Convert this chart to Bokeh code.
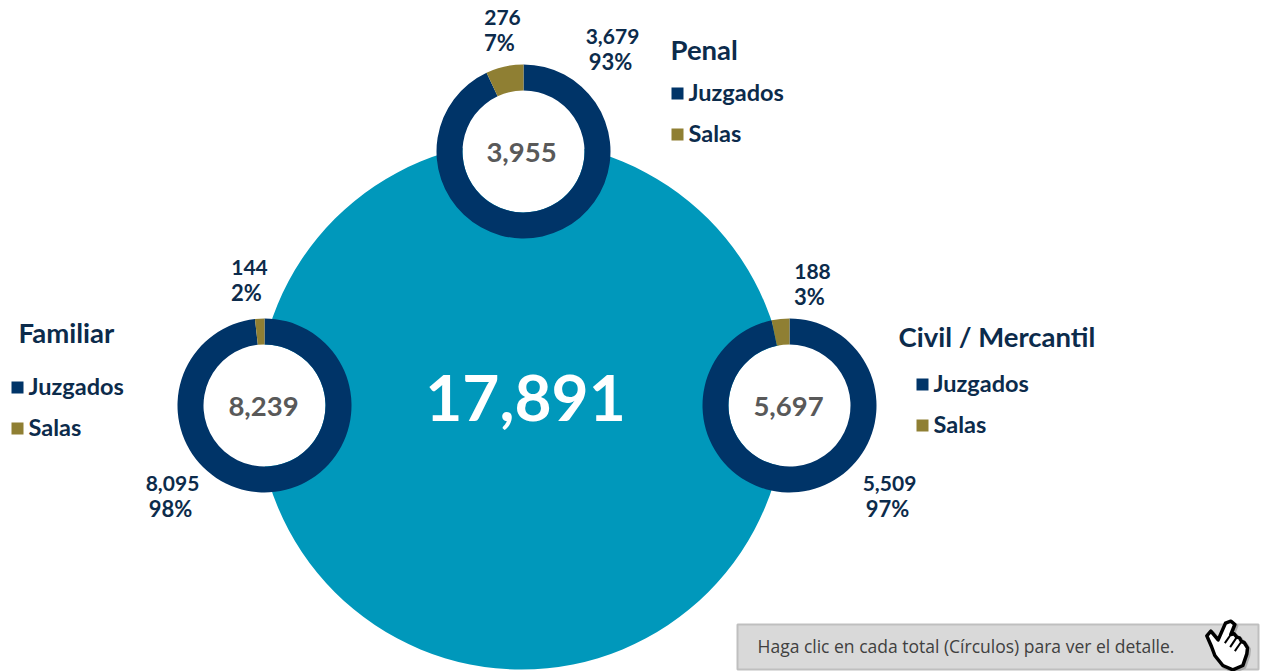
from bokeh.plotting import figure
from bokeh.embed import file_html
from bokeh.resources import INLINE
from bokeh.core.properties import value
from bokeh.models import Range1d
import math

total_general = "17,891"
groups = ["Penal", "Familiar", "Civil / Mercantil"]
totales = ["3,955", "8,239", "5,697"]
juzgados = [3679, 8095, 5509]
salas = [276, 144, 188]
pct_juzgados = ["93%", "98%", "97%"]
pct_salas = ["7%", "2%", "3%"]
leyenda = ["Juzgados", "Salas"]
nota = "Haga clic en cada total (Círculos) para ver el detalle."

W, H = 1264, 671
NAVY, GOLD, TEAL = "#003468", "#8f7f33", "#0098bb"
TXT, GREY = "#0c2b4b", "#595959"
FONT = "Lato"

p = figure(width=W, height=H, output_backend="svg", toolbar_location=None,
           x_range=Range1d(0, W), y_range=Range1d(0, H), min_border=0,
           outline_line_color=None, background_fill_color="white", border_fill_color="white")
p.axis.visible = False
p.grid.visible = False

Y = lambda py: H - py


def txt(x, py, s, size, color=TXT, align="center", bold=True):
    p.text([x], [Y(py)], text=[s], text_font=value(FONT), text_font_size=f"{size}px",
           text_font_style="bold" if bold else "normal", text_color=color,
           text_align=align, text_baseline="middle")


p.circle([521], [Y(405)], radius=264, fill_color=TEAL, line_color=None)
txt(525, 397, total_general, 64, "white")

centers = [(523, 151), (264, 405), (789, 405)]
ro, ri = 87, 61
for i, (cx, cy) in enumerate(centers):
    tot = juzgados[i] + salas[i]
    a = 2 * math.pi * salas[i] / tot
    top = math.pi / 2
    p.circle([cx], [Y(cy)], radius=ri, fill_color="white", line_color=None)
    p.annular_wedge([cx], [Y(cy)], inner_radius=ri, outer_radius=ro, start_angle=top + a,
                    end_angle=top + 2 * math.pi, fill_color=NAVY, line_color=None)
    p.annular_wedge([cx], [Y(cy)], inner_radius=ri, outer_radius=ro, start_angle=top,
                    end_angle=top + a, fill_color=GOLD, line_color=None)
    txt(cx - 2 if i == 0 else cx - 1, cy + 1, totales[i], 27.5, GREY)

# data labels: (x, y of first line) for Juzgados and Salas
lab_j = [(612, 36), (172, 483), (889, 483)]
lab_s = [(502, 17), (249, 267), (812, 271)]
for i in range(3):
    x, y = lab_j[i]
    txt(x, y, f"{juzgados[i]:,}", 21)
    txt(x - 2, y + 25, pct_juzgados[i], 22)
    x, y = lab_s[i]
    txt(x, y, f"{salas[i]:,}", 21)
    txt(x - 3, y + 25, pct_salas[i], 22)

# legends: title pos, swatch x, first row y, second row y
legs = [((670, 49), 671, 91, 132), ((18, 332), 11, 385, 426), ((898, 336), 916, 382, 423)]
for i, ((tx, ty), sx, y1, y2) in enumerate(legs):
    txt(tx, ty, groups[i], 27.5, align="left")
    for yy, col, name in ((y1, NAVY, leyenda[0]), (y2, GOLD, leyenda[1])):
        p.rect([sx + 6], [Y(yy + 2)], width=12, height=12, fill_color=col, line_color=None)
        txt(sx + 17, yy, name, 23.5, align="left")

# note box
p.quad(left=[737], right=[1258], top=[Y(624)], bottom=[Y(669)], fill_color="#d9d9d9",
       line_color="#bfbfbf", line_width=2)
p.text([757], [Y(645)], text=[nota], text_font=value("Open Sans"), text_font_size="17.5px",
       text_color="#404040", text_align="left", text_baseline="middle")

# hand cursor icon
hand = [(106, 32), (118, 42), (106, 72), (116, 70), (124, 80), (132, 82), (138, 93), (146, 96),
        (156, 112), (154, 130), (142, 165), (112, 178), (82, 165), (58, 135), (48, 108), (34, 76),
        (46, 62), (68, 88), (90, 38)]
hx = [1195 + a / 3 for a, b in hand]
hy = [Y(610 + b / 3) for a, b in hand]
p.patch([a + 1.5 for a in hx], [b - 1.5 for b in hy], fill_color="#8c8c8c", fill_alpha=0.6,
        line_color="#8c8c8c", line_alpha=0.6, line_width=4, line_join="round")
p.patch(hx, hy, fill_color="white", line_color="black", line_width=3.5, line_join="round")
# finger separations
for seg in [[(88, 98), (106, 72)], [(104, 110), (124, 80)], [(118, 122), (138, 93)]]:
    p.line([1195 + a / 3 for a, b in seg], [Y(610 + b / 3) for a, b in seg], line_color="black",
           line_width=2)

open("out.html", "w").write(file_html(p, INLINE))
